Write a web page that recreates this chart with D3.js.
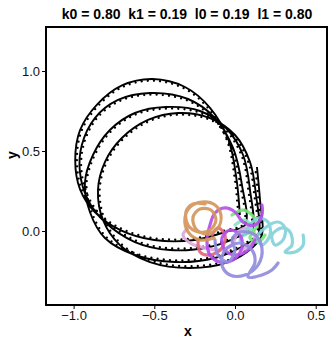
<!DOCTYPE html>
<html><head><meta charset="utf-8">
<script src="https://cdn.jsdelivr.net/npm/d3@7"></script>
<style>body{margin:0;background:#fff}svg{display:block}</style>
</head><body>
<script>
const titleText = "k0 = 0.80  k1 = 0.19  l0 = 0.19  l1 = 0.80";
const xTicks = [-1.0, -0.5, 0.0, 0.5];
const yTicks = [0.0, 0.5, 1.0];
const xDomain = [-1.171, 0.57];
const yDomain = [-0.4625, 1.275];

// black trajectory (four loops plus final rise)
const loop1 = [[0.03,0.10],[0.01,0.32],[-0.04,0.57],[-0.155,0.77],[-0.31,0.90],[-0.51,0.95],[-0.70,0.91],[-0.855,0.79],[-0.96,0.63],[-0.99,0.44],[-0.96,0.26],[-0.87,0.12],[-0.71,0.006],[-0.50,-0.056],[-0.25,-0.056],[-0.06,-0.006]];
const loop2 = [[0.062,0.0375],[0.043,0.2875],[-0.012,0.519],[-0.124,0.706],[-0.291,0.825],[-0.527,0.8625],[-0.725,0.819],[-0.868,0.706],[-0.949,0.5375],[-0.961,0.369],[-0.911,0.194],[-0.806,0.056],[-0.62,-0.069],[-0.403,-0.119],[-0.155,-0.10],[0.019,-0.0375]];
const loop3 = [[0.105,0.006],[0.093,0.256],[0.05,0.475],[-0.056,0.644],[-0.217,0.75],[-0.428,0.775],[-0.62,0.7375],[-0.775,0.631],[-0.88,0.475],[-0.93,0.30],[-0.899,0.119],[-0.806,-0.044],[-0.62,-0.15],[-0.372,-0.194],[-0.124,-0.169],[0.062,-0.0875]];
const loop4 = [[0.143,-0.025],[0.13,0.225],[0.093,0.431],[0,0.60],[-0.155,0.706],[-0.353,0.7375],[-0.539,0.694],[-0.701,0.581],[-0.806,0.431],[-0.849,0.256],[-0.818,0.069],[-0.713,-0.088],[-0.527,-0.194],[-0.279,-0.231],[-0.043,-0.194],[0.105,-0.106]];
const finalRise = [[0.167,-0.025],[0.155,0.194],[0.136,0.40]];

// coloured trajectories
const orangePath = [[-0.130,-0.044],[-0.217,-0.056],[-0.291,-0.006],[-0.310,0.081],[-0.279,0.15],[-0.205,0.181],[-0.124,0.1625],[-0.087,0.10],[-0.105,0.019],[-0.174,-0.019],[-0.242,0.0125],[-0.260,0.0875],[-0.217,0.1375],[-0.149,0.131],[-0.118,0.069],[-0.155,0.006],[-0.229,-0.006],[-0.291,0.0375],[-0.304,0.119],[-0.260,0.169],[-0.186,0.169]];
const purplePath = [[0.167,0.1625],[0.167,0.10],[0.124,0.0375],[0.05,0.056],[0,0.119],[-0.062,0.144],[-0.124,0.1125],[-0.155,0.0375],[-0.174,-0.056],[-0.155,-0.15],[-0.093,-0.194],[-0.012,-0.181],[0.043,-0.106],[0.031,-0.025],[-0.031,0.006],[-0.081,-0.044],[-0.062,-0.119],[0,-0.15],[0.081,-0.119],[0.124,-0.056]];
const lavenderPath = [[-0.124,-0.056],[-0.105,-0.15],[-0.043,-0.194],[0,-0.119],[-0.019,-0.056],[0.031,-0.006],[0.124,-0.025],[0.167,-0.106],[0.143,-0.2125],[0.062,-0.275],[-0.031,-0.275],[-0.081,-0.2125],[-0.062,-0.119],[0.031,-0.075],[0.105,-0.119],[0.124,-0.194],[0.081,-0.2875],[0.167,-0.275],[0.229,-0.244],[0.267,-0.20]];
const cyanPath = [[0.031,-0.056],[0.093,0.0375],[0.143,0.081],[0.205,0.056],[0.217,-0.025],[0.167,-0.0875],[0.136,-0.044],[0.186,0.019],[0.267,0.056],[0.31,0.019],[0.298,-0.056],[0.248,-0.0875],[0.229,-0.025],[0.291,0.019],[0.341,-0.006],[0.353,-0.0875],[0.31,-0.131],[0.372,-0.131],[0.422,-0.0875],[0.422,-0.025]];
const greenPath = [[-0.019,0.10],[0.05,0.131],[0.105,0.10],[0.136,0.0375],[0.093,-0.044],[0.143,-0.069],[0.186,-0.025]];
const pinkPath = [[0.031,-0.119],[0.093,-0.0875],[0.124,-0.025],[0.081,0.019],[0.019,-0.006],[-0.019,-0.0875],[-0.093,-0.119],[-0.186,-0.106],[-0.279,-0.075],[-0.322,-0.025],[-0.291,0.019]];
const redPath = [[-0.229,-0.056],[-0.217,-0.131],[-0.155,-0.15],[-0.081,-0.106],[-0.062,-0.025],[-0.105,0.019],[-0.143,-0.025]];
const mintPath = [[0,0.0375],[0.062,0.069],[0.105,0.019],[0.062,-0.025]];

const colouredSeries = [
  {pts: pinkPath, color: "#DDA8DA"},
  {pts: redPath, color: "#E2677D"},
  {pts: mintPath, color: "#86E4C6"},
  {pts: greenPath, color: "#74E477"},
  {pts: cyanPath, color: "#84D3DA"},
  {pts: purplePath, color: "#B550EA"},
  {pts: lavenderPath, color: "#908CDD"},
  {pts: orangePath, color: "#D4965A"}
];

const W = 328, H = 338;
const m = {l: 46, r: 1, t: 27, b: 33};
const FONT = "'Liberation Sans', Arial, Helvetica, sans-serif";
const svg = d3.select("body").append("svg").attr("width", W).attr("height", H);
const x = d3.scaleLinear().domain(xDomain).range([m.l, W - m.r]);
const y = d3.scaleLinear().domain(yDomain).range([H - m.b, m.t]);

const defs = svg.append("defs");
defs.append("clipPath").attr("id","clip").append("rect")
  .attr("x", m.l).attr("y", m.t).attr("width", W - m.r - m.l).attr("height", H - m.b - m.t);

const g = svg.append("g").attr("clip-path","url(#clip)");
const line = d3.line().x(d => x(d[0])).y(d => y(d[1])).curve(d3.curveCatmullRom.alpha(0.5));

const blackPts = [...loop1, ...loop2, ...loop3, ...loop4, ...finalRise];
const bp = g.append("path").datum(blackPts).attr("d", line)
  .attr("fill","none").attr("stroke","#000").attr("stroke-width",1.9);

// barbs along the black trajectory
const node = bp.node();
const L = node.getTotalLength();
const step = 6.3;
for (let s = 2; s < L - 1; s += step) {
  const p = node.getPointAtLength(s);
  const q = node.getPointAtLength(Math.min(L, s + 0.8));
  let tx = q.x - p.x, ty = q.y - p.y;
  const n = Math.hypot(tx, ty) || 1; tx /= n; ty /= n;
  const nx = ty, ny = -tx;
  g.append("line").attr("x1", p.x).attr("y1", p.y)
    .attr("x2", p.x + nx * 2.0).attr("y2", p.y + ny * 2.0)
    .attr("stroke","#000").attr("stroke-width",1);
  g.append("circle").attr("cx", p.x + nx * 1.7).attr("cy", p.y + ny * 1.7)
    .attr("r", 1.15).attr("fill","#000");
}

colouredSeries.forEach(s => {
  g.append("path").datum(s.pts).attr("d", line)
    .attr("fill","none").attr("stroke", s.color).attr("stroke-width",3.2)
    .attr("stroke-linecap","round").attr("stroke-linejoin","round").attr("opacity",0.92);
});

// frame
svg.append("rect").attr("x", m.l).attr("y", m.t)
  .attr("width", W - m.r - m.l).attr("height", H - m.b - m.t)
  .attr("fill","none").attr("stroke","#000").attr("stroke-width",2);

const fmt = d3.format(".1f");
const xAxis = svg.append("g").attr("transform", `translate(0,${H - m.b})`)
  .call(d3.axisBottom(x).tickValues(xTicks).tickFormat(d => fmt(d).replace("-", "\u2212")).tickSize(4).tickPadding(2));
const yAxis = svg.append("g").attr("transform", `translate(${m.l},0)`)
  .call(d3.axisLeft(y).tickValues(yTicks).tickFormat(fmt).tickSize(4).tickPadding(2));
[xAxis, yAxis].forEach(a => {
  a.select(".domain").remove();
  a.selectAll("line").attr("stroke","#000");
  a.selectAll("text").attr("fill","#111").style("font-family", FONT).style("font-size","13px");
});

svg.append("text").attr("x", 187).attr("y", 19).attr("text-anchor","middle")
  .style("font-family", FONT).style("font-weight","bold").style("font-size","14px")
  .attr("xml:space","preserve").text(titleText);
svg.append("text").attr("x", 188).attr("y", 336).attr("text-anchor","middle")
  .style("font-family", FONT).style("font-weight","bold").style("font-size","14px").text("x");
svg.append("text").attr("transform","translate(17,155) rotate(-90)").attr("text-anchor","middle")
  .style("font-family", FONT).style("font-weight","bold").style("font-size","14px").text("y");
</script>
</body></html>
